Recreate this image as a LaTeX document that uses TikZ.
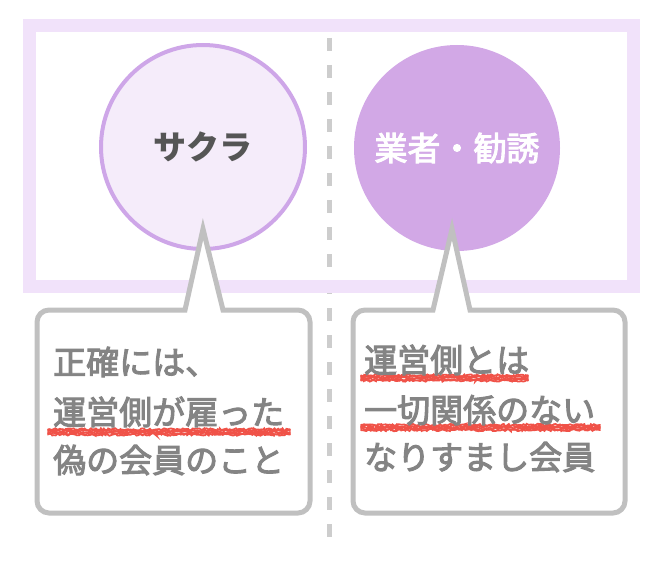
\documentclass[tikz,border=0pt]{standalone}
\usepackage{fontspec}
\newfontfamily\jp{Noto Sans CJK JP}
\newfontfamily\jpm[FakeBold=3]{Noto Sans CJK JP}
\usetikzlibrary{decorations.pathmorphing}
\definecolor{framecol}{RGB}{241,226,250}
\definecolor{circlefill}{RGB}{245,236,250}
\definecolor{circleline}{RGB}{206,166,232}
\definecolor{circledark}{RGB}{210,168,230}
\definecolor{boxline}{RGB}{192,192,192}
\definecolor{dashcol}{RGB}{205,205,205}
\definecolor{textgray}{RGB}{132,132,132}
\definecolor{labeldark}{RGB}{85,85,85}
\definecolor{markred}{RGB}{240,82,72}
\tikzset{
  boxtext/.style={anchor=base west, inner sep=0pt, font=\jpm\fontsize{33}{33}\selectfont, text=textgray},
  callout/.style={draw=boxline, line width=5pt, fill=white, line join=miter},
  markline/.style={draw=markred, line width=1.8pt, line cap=round,
    decorate, decoration={random steps, segment length=1.6pt, amplitude=1.1pt}},
}
\begin{document}
\begin{tikzpicture}[x=1pt,y=-1pt]
\pgfmathsetseed{7}
\useasboundingbox (0,0) rectangle (661,564);
% dashed divider
\coordinate (dtop) at (329,38);
\coordinate (dbot) at (329,548);
\draw[dashcol, line width=5pt, dash pattern=on 13pt off 14pt] (dtop) -- (dbot);
% frame
\draw[framecol, line width=13pt] (29.5,25.5) rectangle (633.5,286.5);
% circles
\node[circle, draw=circleline, line width=4pt, fill=circlefill, minimum size=204pt, inner sep=0pt,
      font=\jp\bfseries\fontsize{33}{33}\selectfont, text=labeldark] (sakura) at (203,147) {サクラ};
\node[circle, fill=circledark, minimum size=206pt, inner sep=0pt,
      font=\jpm\fontsize{33}{33}\selectfont, text=white] (gyosha) at (457,148) {業者・勧誘};
% left callout
\filldraw[callout] (260,310) [rounded corners=12pt] -- (310,310) -- (310,513) -- (37,513) -- (37,310) -- (110,310)
   [sharp corners] -- (185,310) -- (203,229) -- (223,310) -- cycle;
% right callout
\filldraw[callout] (540,310) [rounded corners=12pt] -- (625,310) -- (625,513) -- (353,513) -- (353,310) -- (400,310)
   [sharp corners] -- (433,310) -- (452,229) -- (470,310) -- cycle;
% red marker underlines
\foreach \dy in {-2.6,-1.3,0,1.3,2.6}{
  \draw[markline] (48,432+\dy) -- (290,432+\dy);
  \draw[markline] (361,378+\dy) -- (528,378+\dy);
  \draw[markline] (361,427.5+\dy) -- (600,427.5+\dy);
}
% texts
\node[boxtext] (l1) at (53,374.5) {正確には、};
\node[boxtext] (l2) at (53,424.5) {運営側が雇った};
\node[boxtext] (l3) at (53,472.5) {偽の会員のこと};
\node[boxtext] (r1) at (364,372.5) {運営側とは};
\node[boxtext] (r2) at (364,422.5) {一切関係のない};
\node[boxtext] (r3) at (364,469.5) {なりすまし会員};
\end{tikzpicture}
\end{document}
